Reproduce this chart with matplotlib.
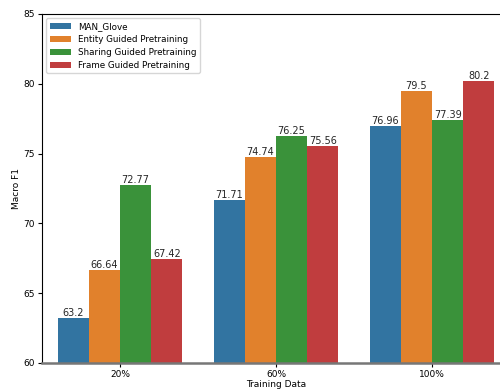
import numpy as np
import matplotlib.pyplot as plt

groups = ["20%", "60%", "100%"]
methods = ["MAN_Glove", "Entity Guided Pretraining",
           "Sharing Guided Pretraining", "Frame Guided Pretraining"]
scores = [
    [63.2, 71.71, 76.96],
    [66.64, 74.74, 79.5],
    [72.77, 76.25, 77.39],
    [67.42, 75.56, 80.2],
]
colors = ["#3274a1", "#e1812c", "#3a923a", "#c03d3e"]

fig = plt.figure(figsize=(5, 3.89), dpi=100)
ax = fig.add_axes([42 / 500, 1 - 363 / 389, 468 / 500, 349 / 389])

x = np.arange(len(groups))
width = 0.2
for i, (name, vals) in enumerate(zip(methods, scores)):
    pos = x - 0.3 + i * width
    ax.bar(pos, vals, width, color=colors[i], label=name)
    for p, v in zip(pos, vals):
        ax.text(p, v, str(v), ha="center", va="bottom", fontsize=7, color="#262626")

ax.set_xlim(-0.5, 2.5)
ax.set_ylim(60, 85)
ax.set_xticks(x)
ax.set_xticklabels(groups)
ax.set_yticks([60, 65, 70, 75, 80, 85])
ax.tick_params(labelsize=6.5, length=3, pad=2)
ax.set_xlabel("Training Data", fontsize=6.5, labelpad=1)
ax.set_ylabel("Macro F1", fontsize=6.5, labelpad=2)
ax.spines["bottom"].set_color("#777777")
ax.spines["bottom"].set_linewidth(1.8)
ax.legend(loc="upper left", fontsize=6.3, handlelength=2.4, labelspacing=0.45)

fig.savefig("out.png", dpi=100)
